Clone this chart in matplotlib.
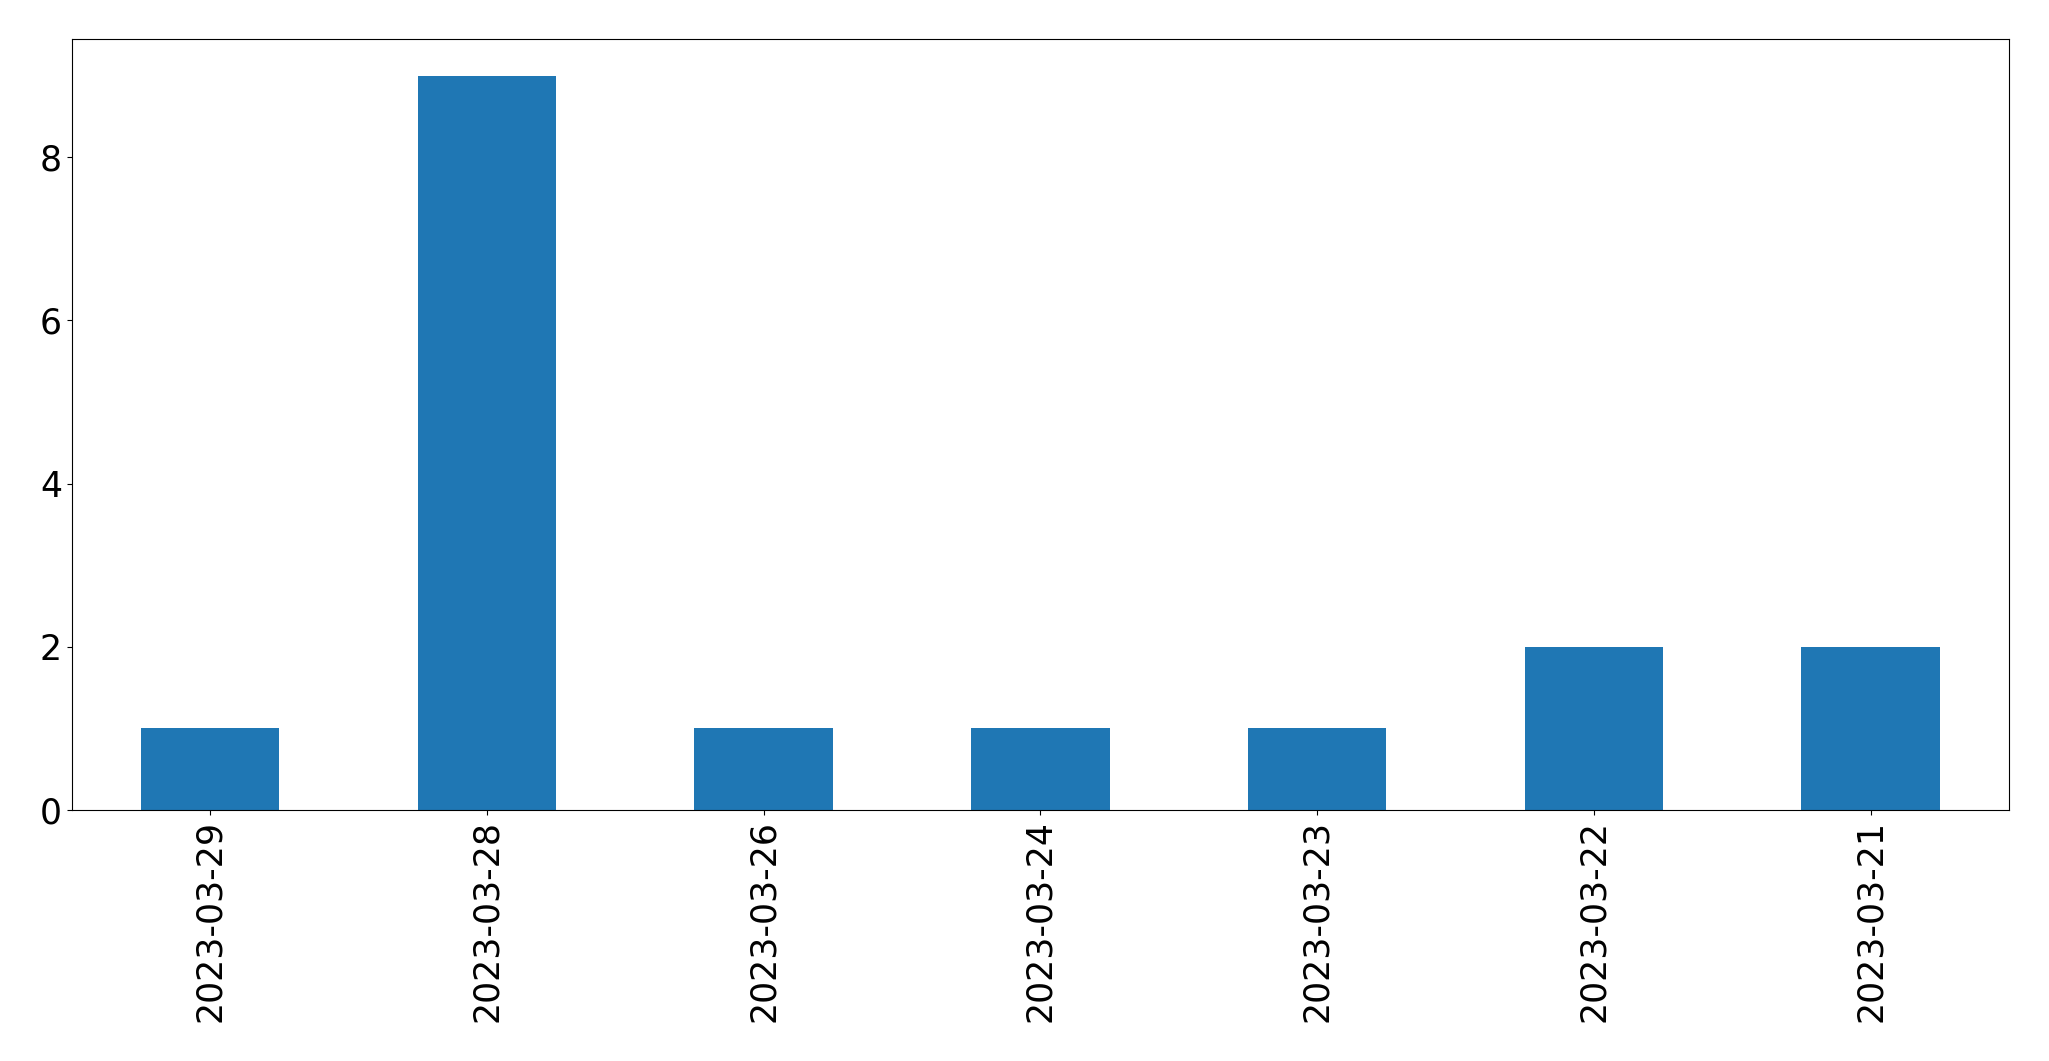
import matplotlib
matplotlib.use("Agg")
import matplotlib.pyplot as plt

dates = ["2023-03-29", "2023-03-28", "2023-03-26", "2023-03-24", "2023-03-23", "2023-03-22", "2023-03-21"]
counts = [1, 9, 1, 1, 1, 2, 2]

fig = plt.figure(figsize=(20.49, 10.61), dpi=100)
ax = fig.add_axes([0.035, 0.2366, 0.9455, 0.7267])
x = list(range(len(dates)))
ax.bar(x, counts, width=0.5, color="#1f77b4")
ax.set_xlim(-0.5, len(dates) - 0.5)
ax.set_xticks(x)
ax.set_xticklabels(dates, rotation=90)
ax.set_yticks([0, 2, 4, 6, 8])
ax.tick_params(labelsize=25)
fig.savefig("out.png", dpi=100)
